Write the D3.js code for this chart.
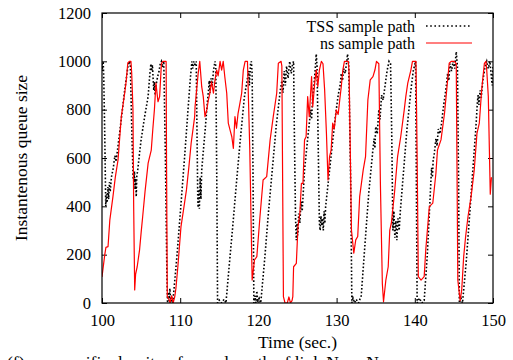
<!DOCTYPE html>
<html>
<head>
<meta charset="utf-8">
<script src="https://cdn.jsdelivr.net/npm/d3@7"></script>
<style>
  html, body { margin: 0; padding: 0; background: #fff; }
  svg { display: block; }
  text { font-family: "Liberation Serif", "Times New Roman", serif; fill: #000; }
</style>
</head>
<body>
<svg id="chart" width="513" height="360"></svg>
<script>
// Axis ticks
const xTicks = [100, 110, 120, 130, 140, 150];
const yTicks = [0, 200, 400, 600, 800, 1000, 1200];

// Series labels
const seriesNames = ["TSS sample path", "ns sample path"];

// TSS sample path: time (s) and queue size
const tssTime = [
  100.0, 100.08, 100.15, 100.22, 100.35, 100.48, 100.58, 100.66, 100.75, 100.85, 100.95, 101.05, 101.2, 101.45, 101.65, 101.8,
  102.05, 102.5, 102.9, 103.3, 103.5, 103.62, 103.82, 103.98, 104.08, 104.15, 104.22, 104.3, 104.38, 104.45, 104.55, 104.8,
  105.0, 105.45, 105.9, 106.1, 106.25, 106.35, 106.45, 106.55, 106.62, 106.7, 106.8, 106.9, 107.1, 107.3, 107.45, 107.6,
  107.75, 107.9, 108.1, 108.3, 108.38, 108.48, 108.58, 108.68, 108.78, 108.92, 109.05, 109.6, 110.1, 110.6, 111.0, 111.3,
  111.5, 111.6, 111.75, 111.9, 112.05, 112.15, 112.25, 112.3, 112.38, 112.45, 112.55, 112.65, 112.75, 113.2, 113.5, 113.62,
  113.72, 113.82, 113.95, 114.1, 114.25, 114.45, 114.55, 114.68, 114.78, 115.0, 115.3, 115.6, 115.85, 116.2, 116.7, 117.2,
  117.7, 118.2, 118.6, 118.75, 118.85, 119.0, 119.1, 119.2, 119.32, 119.42, 119.55, 119.68, 119.8, 119.9, 120.1, 120.3,
  120.8, 121.3, 121.8, 122.3, 122.8, 123.0, 123.15, 123.3, 123.45, 123.6, 123.8, 124.0, 124.2, 124.38, 124.5, 124.6,
  124.75, 124.85, 124.95, 125.05, 125.15, 125.3, 125.45, 125.6, 125.9, 126.3, 126.7, 126.8, 126.95, 127.1, 127.25, 127.4,
  127.5, 127.65, 127.8, 127.9, 128.0, 128.1, 128.2, 128.3, 128.4, 128.5, 128.6, 129.0, 129.4, 129.8, 130.2, 130.45,
  130.6, 130.75, 130.9, 131.1, 131.3, 131.4, 131.55, 131.8, 131.95, 132.1, 132.3, 132.5, 132.8, 133.15, 133.6, 134.1,
  134.6, 134.8, 134.9, 135.0, 135.2, 135.4, 135.55, 135.75, 135.95, 136.2, 136.45, 136.7, 136.9, 137.05, 137.2, 137.33,
  137.45, 137.58, 137.7, 137.85, 138.0, 138.15, 138.5, 139.0, 139.5, 139.8, 140.1, 140.2, 140.3, 140.6, 140.9, 141.2,
  141.6, 141.95, 142.05, 142.15, 142.25, 142.35, 142.5, 142.7, 142.85, 143.0, 143.2, 143.4, 143.7, 144.0, 144.2, 144.35,
  144.5, 144.7, 144.9, 145.1, 145.3, 145.45, 145.6, 145.7, 145.9, 146.1, 146.6, 147.0, 147.4, 147.8, 148.0, 148.1,
  148.2, 148.35, 148.5, 148.7, 149.0, 149.2, 149.4, 149.6, 149.75, 149.9, 150.0
];
const tssQueue = [
  990, 960, 1000, 940, 700, 400, 450, 415, 480, 430, 500, 460, 520, 560, 610, 585,
  650, 770, 880, 975, 1000, 990, 700, 520, 500, 545, 470, 515, 440, 525, 545, 620,
  675, 770, 855, 940, 990, 960, 985, 920, 880, 915, 860, 900, 935, 960, 990, 1000,
  975, 1000, 620, 120, 0, 45, 10, 60, 0, 25, 0, 200, 410, 620, 800, 930,
  1000, 970, 1000, 980, 1000, 700, 420, 395, 470, 390, 520, 430, 550, 720, 840, 880,
  920, 870, 930, 900, 960, 1000, 980, 500, 0, 12, 0, 15, 0, 130, 310, 500,
  680, 850, 930, 960, 900, 990, 1000, 950, 500, 0, 30, 0, 50, 10, 20, 0,
  180, 380, 560, 740, 880, 920, 870, 960, 900, 980, 930, 1000, 950, 990, 1000, 700,
  350, 260, 330, 280, 370, 330, 420, 380, 550, 680, 800, 760, 860, 900, 960, 1030,
  980, 650, 330, 300, 360, 320, 350, 300, 380, 330, 400, 520, 640, 760, 860, 900,
  950, 920, 970, 950, 1000, 1030, 990, 500, 0, 20, 0, 15, 0, 30, 230, 450,
  620, 680, 640, 730, 700, 800, 760, 860, 840, 900, 960, 1000, 990, 700, 300, 380,
  270, 340, 260, 350, 300, 380, 520, 720, 880, 960, 1000, 500, 0, 20, 0, 10,
  200, 430, 500, 560, 520, 590, 620, 680, 650, 720, 700, 740, 820, 890, 950, 920,
  990, 960, 1000, 970, 1040, 980, 500, 0, 20, 0, 180, 360, 540, 720, 830, 860,
  820, 880, 850, 920, 980, 1000, 970, 1000, 950, 900, 980
];

// ns sample path: time (s) and queue size
const nsTime = [
  100.0, 100.35, 100.5, 100.77, 101.0, 101.4, 101.7, 102.05, 102.3, 102.47, 102.9, 103.1, 103.3, 103.5, 103.7, 103.8,
  103.96, 104.05, 104.18, 104.3, 104.5, 104.8, 105.0, 105.2, 105.5, 105.9, 106.3, 106.5, 106.7, 106.9, 107.0, 107.16,
  107.37, 107.6, 107.8, 108.2, 108.25, 108.35, 108.5, 108.7, 108.9, 109.1, 109.3, 109.45, 109.7, 110.1, 110.4, 110.8,
  111.1, 111.4, 111.85, 111.9, 112.3, 112.5, 112.75, 112.95, 113.17, 113.4, 113.6, 113.8, 114.0, 114.25, 114.45, 114.67,
  114.85, 115.1, 115.3, 115.5, 115.7, 115.95, 116.15, 116.37, 116.6, 116.8, 117.0, 117.2, 117.4, 117.6, 117.86, 118.07,
  118.3, 118.6, 118.9, 119.2, 119.5, 119.8, 120.2, 120.6, 121.06, 121.5, 121.9, 122.34, 122.55, 122.9, 123.0, 123.2,
  123.4, 123.7, 123.9, 124.1, 124.3, 124.4, 124.5, 124.85, 125.06, 125.3, 125.5, 125.7, 125.9, 126.1, 126.3, 126.5,
  126.8, 126.95, 127.2, 127.4, 127.6, 127.8, 128.05, 128.26, 128.47, 128.7, 128.9, 129.1, 129.3, 129.5, 129.7, 129.96,
  130.2, 130.4, 130.6, 130.8, 131.0, 131.5, 131.6, 131.9, 132.2, 132.45, 132.7, 132.95, 133.4, 133.7, 134.0, 134.3,
  134.65, 134.9, 135.1, 135.4, 135.6, 135.85, 136.0, 136.3, 136.6, 136.8, 137.0, 137.4, 137.8, 138.2, 138.65, 138.85,
  139.1, 139.3, 139.5, 139.7, 140.15, 140.3, 140.45, 140.8, 141.2, 141.4, 141.86, 142.3, 142.7, 142.9, 143.35, 143.8,
  144.0, 144.2, 144.4, 144.65, 145.05, 145.3, 145.5, 145.8, 146.0, 146.25, 146.5, 146.8, 147.2, 147.6, 147.95, 148.25,
  148.55, 148.9, 149.1, 149.2, 149.4, 149.65, 149.8
];
const nsQueue = [
  108, 199, 230, 233, 343, 440, 520, 592, 700, 771, 868, 920, 993, 1000, 1000, 950,
  800, 400, 54, 120, 150, 219, 290, 357, 460, 579, 633, 720, 799, 910, 880, 833,
  854, 992, 1000, 1000, 600, 26, 20, 0, 30, 0, 25, 60, 150, 316, 380, 468,
  560, 661, 771, 812, 950, 1000, 895, 854, 771, 799, 840, 868, 916, 868, 923, 964,
  940, 1000, 964, 1000, 937, 868, 744, 716, 688, 640, 771, 723, 785, 820, 868, 964,
  1000, 1000, 633, 95, 178, 192, 357, 509, 523, 675, 771, 868, 992, 1000, 980, 26,
  0, 0, 25, 0, 10, 26, 150, 164, 316, 371, 495, 495, 675, 688, 854, 771,
  937, 812, 910, 964, 896, 964, 1000, 990, 882, 702, 509, 606, 633, 744, 720, 799,
  780, 840, 896, 964, 1000, 1000, 950, 302, 206, 261, 275, 440, 550, 606, 840, 923,
  937, 964, 1000, 990, 495, 80, 5, 95, 150, 302, 330, 454, 606, 688, 799, 854,
  910, 937, 964, 1000, 1000, 600, 109, 95, 109, 219, 399, 413, 537, 633, 675, 785,
  854, 923, 992, 1000, 1000, 990, 95, 10, 54, 192, 275, 357, 440, 550, 702, 744,
  882, 992, 1000, 964, 854, 450, 520
];

const plot = { left: 102, right: 493, top: 13, bottom: 303 };

const svg = d3.select("#chart");

const x = d3.scaleLinear().domain([100, 150]).range([plot.left, plot.right]);
const y = d3.scaleLinear().domain([0, 1200]).range([plot.bottom, plot.top]);

svg.append("defs").append("clipPath").attr("id", "plot-clip")
  .append("rect")
  .attr("x", plot.left).attr("y", plot.top)
  .attr("width", plot.right - plot.left).attr("height", plot.bottom - plot.top);

const tickLen = 5;
const tickFont = 16.5;
const titleFont = 17.5;
const legendFont = 16;

// Bottom axis with labels, ticks pointing inward
const xAxis = svg.append("g")
  .attr("transform", `translate(0,${plot.bottom})`)
  .call(d3.axisBottom(x).tickValues(xTicks).tickFormat(d3.format("d"))
    .tickSizeInner(-tickLen).tickSizeOuter(0).tickPadding(11));
// Top axis: mirrored ticks only
const xAxisTop = svg.append("g")
  .attr("transform", `translate(0,${plot.top})`)
  .call(d3.axisTop(x).tickValues(xTicks).tickFormat("")
    .tickSizeInner(-tickLen).tickSizeOuter(0));
// Left axis with labels
const yAxis = svg.append("g")
  .attr("transform", `translate(${plot.left},0)`)
  .call(d3.axisLeft(y).tickValues(yTicks).tickFormat(d3.format("d"))
    .tickSizeInner(-tickLen).tickSizeOuter(0).tickPadding(11));
// Right axis: mirrored ticks only
const yAxisRight = svg.append("g")
  .attr("transform", `translate(${plot.right},0)`)
  .call(d3.axisRight(y).tickValues(yTicks).tickFormat("")
    .tickSizeInner(-tickLen).tickSizeOuter(0));

[xAxis, xAxisTop, yAxis, yAxisRight].forEach(g => {
  g.select(".domain").remove();
  g.selectAll(".tick line").attr("stroke", "#000").attr("stroke-width", 1);
  g.selectAll(".tick text")
    .style("font-family", '"Liberation Serif", "Times New Roman", serif')
    .style("font-size", tickFont + "px")
    .attr("fill", "#000");
});

// Data lines
const tssData = tssTime.map((t, i) => [t, tssQueue[i]]);
const nsData = nsTime.map((t, i) => [t, nsQueue[i]]);
const line = d3.line().x(d => x(d[0])).y(d => y(d[1]));

const dataG = svg.append("g").attr("clip-path", "url(#plot-clip)");
dataG.append("path")
  .datum(tssData)
  .attr("d", line)
  .attr("fill", "none")
  .attr("stroke", "#000")
  .attr("stroke-width", 1.6)
  .attr("stroke-dasharray", "1.6,2");
dataG.append("path")
  .datum(nsData)
  .attr("d", line)
  .attr("fill", "none")
  .attr("stroke", "#ff0000")
  .attr("stroke-width", 1.2)
  .attr("stroke-linejoin", "round");

// Plot frame
svg.append("rect")
  .attr("x", plot.left).attr("y", plot.top)
  .attr("width", plot.right - plot.left).attr("height", plot.bottom - plot.top)
  .attr("fill", "none").attr("stroke", "#000").attr("stroke-width", 1.2);

// Legend (top right)
const legend = svg.append("g");
const legendRows = [
  { name: seriesNames[0], color: "#000", dash: "1.6,2.6", width: 1.6 },
  { name: seriesNames[1], color: "#ff0000", dash: null, width: 1.2 }
];
legendRows.forEach((r, i) => {
  const cy = 26 + i * 17;
  legend.append("text")
    .attr("x", 415).attr("y", cy)
    .attr("dy", "0.35em")
    .attr("text-anchor", "end")
    .style("font-size", legendFont + "px")
    .text(r.name);
  legend.append("line")
    .attr("x1", 426).attr("x2", 472)
    .attr("y1", cy).attr("y2", cy)
    .attr("stroke", r.color)
    .attr("stroke-width", r.width)
    .attr("stroke-dasharray", r.dash);
});

// Axis titles
svg.append("text")
  .attr("x", (plot.left + plot.right) / 2).attr("y", 348)
  .attr("text-anchor", "middle")
  .style("font-size", titleFont + "px")
  .text("Time (sec.)");

svg.append("text")
  .attr("transform", `translate(27,${(plot.top + plot.bottom) / 2}) rotate(-90)`)
  .attr("text-anchor", "middle")
  .style("font-size", titleFont + "px")
  .text("Instantenous queue size");

// Figure caption (runs off the bottom edge)
svg.append("text")
  .attr("x", 7).attr("y", 368)
  .style("font-size", titleFont + "px")
  .attr("xml:space", "preserve")
  .text("(f)  ns-specific density of sample path of link N  =  N");
</script>
</body>
</html>
